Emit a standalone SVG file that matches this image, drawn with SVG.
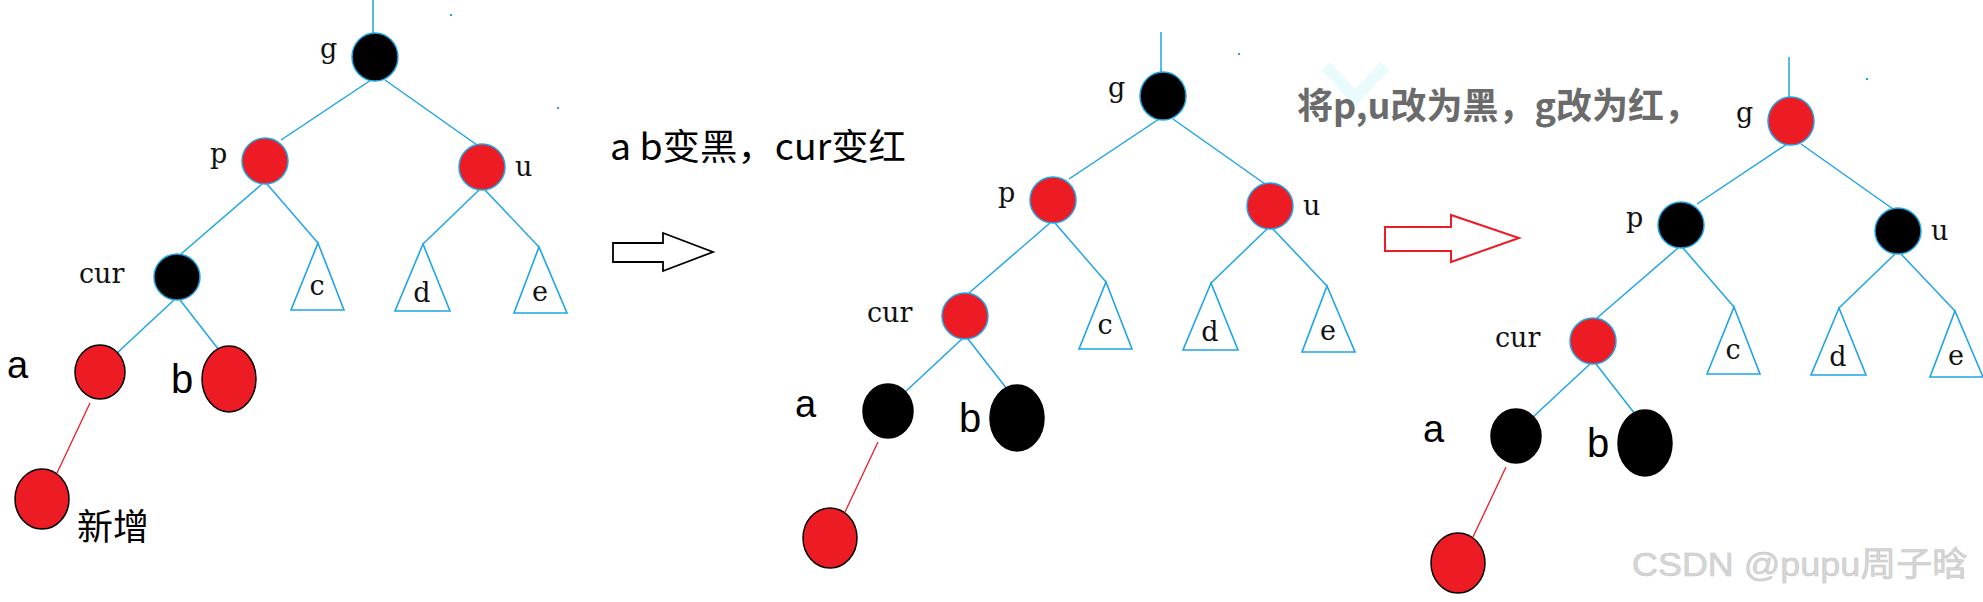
<svg xmlns="http://www.w3.org/2000/svg" width="1983" height="602" viewBox="0 0 1983 602">
<style>
  .edge { stroke: #1ea5e6; stroke-width: 1.5; fill: none; }
  .redge { stroke: #ed1c24; stroke-width: 1.3; fill: none; }
  .tri { stroke: #1ea5e6; stroke-width: 1.6; fill: #ffffff; }
  .nb { fill: #000000; stroke: #1ea5e6; stroke-width: 1.5; }
  .nr { fill: #ed1c24; stroke: #1ea5e6; stroke-width: 1.5; }
  .kb { fill: #000000; stroke: #000000; stroke-width: 1.5; }
  .kr { fill: #ed1c24; stroke: #000000; stroke-width: 1.5; }
  .lbl { font-family: "DejaVu Serif", "Liberation Serif", serif; font-size: 27px; fill: #111; }
  .big { font-family: "Liberation Sans", "Noto Sans", sans-serif; fill: #000; }
  .cjk { font-family: "Noto Sans CJK SC", "Noto Sans", sans-serif; }
  .dot { fill: #1ea5e6; }
</style>
<rect width="1983" height="602" fill="#ffffff"/>

<!-- faint watermark chevron -->
<path d="M1326,66 L1355,98 L1385,66" stroke="#eafbfd" stroke-width="12" fill="none"/>

<!-- captions -->
<text id="caption1" class="cjk" x="610" y="160" font-size="36" fill="#000" textLength="296" lengthAdjust="spacingAndGlyphs">a b变黑，cur变红</text>
<text id="caption2" class="cjk" x="1297" y="119" font-size="36" font-weight="bold" fill="#6b6b6b">将p,u改为黑，g改为红，</text>

<!-- transition arrows -->
<g id="arrow1">
  <polygon points="613,243 663,243 663,233 713,252 663,271 663,262 613,262" fill="#fff" stroke="#000" stroke-width="1.8"/>
</g>
<g id="arrow2">
  <polygon points="1385,227 1451,227 1451,215 1519,238 1451,262 1451,251 1385,251" fill="#fff" stroke="#ed1c24" stroke-width="2"/>
</g>

<!-- connectors -->
<g id="connectors">
  <g id="edges-tree1">
    <path class="edge" d="M373,0 L373,33"/>
    <path class="edge" d="M371,80 L281,140"/>
    <path class="edge" d="M385,80 L477,145"/>
    <path class="edge" d="M262,184 L181,254"/>
    <path class="edge" d="M267,184 L318,243"/>
    <path class="edge" d="M479,190 L423,244"/>
    <path class="edge" d="M485,190 L539,247"/>
    <path class="edge" d="M174,300 L117,353"/>
    <path class="edge" d="M180,300 L219,350"/>
    <path class="redge" d="M90,403 L57,473"/>
  </g>
  <g id="edges-tree2" transform="translate(788,39)">
    <path class="edge" d="M373,-7 L373,33"/>
    <path class="edge" d="M371,80 L281,140"/>
    <path class="edge" d="M385,80 L477,145"/>
    <path class="edge" d="M262,184 L181,254"/>
    <path class="edge" d="M267,184 L318,243"/>
    <path class="edge" d="M479,190 L423,244"/>
    <path class="edge" d="M485,190 L539,247"/>
    <path class="edge" d="M174,300 L117,353"/>
    <path class="edge" d="M180,300 L219,350"/>
    <path class="redge" d="M90,403 L57,473"/>
  </g>
  <g id="edges-tree3" transform="translate(1416,64)">
    <path class="edge" d="M373,-7 L373,33"/>
    <path class="edge" d="M371,80 L281,140"/>
    <path class="edge" d="M385,80 L477,145"/>
    <path class="edge" d="M262,184 L181,254"/>
    <path class="edge" d="M267,184 L318,243"/>
    <path class="edge" d="M479,190 L423,244"/>
    <path class="edge" d="M485,190 L539,247"/>
    <path class="edge" d="M174,300 L117,353"/>
    <path class="edge" d="M180,300 L219,350"/>
    <path class="redge" d="M90,403 L57,473"/>
  </g>
</g>

<!-- Tree 1 -->
<g id="tree1">
  <rect class="dot" x="450" y="14" width="2" height="2"/>
  <rect class="dot" x="557" y="107" width="2" height="2"/>
  <g id="t1-g"><ellipse class="nb" cx="375" cy="57" rx="23" ry="24"/><text class="lbl" x="320" y="58">g</text></g>
  <g id="t1-p"><ellipse class="nr" cx="265" cy="161" rx="23" ry="23"/><text class="lbl" x="210" y="163">p</text></g>
  <g id="t1-u"><ellipse class="nr" cx="482" cy="167" rx="23" ry="23"/><text class="lbl" x="515" y="176">u</text></g>
  <g id="t1-cur"><ellipse class="nb" cx="177" cy="277" rx="23" ry="23"/><text class="lbl" x="79" y="283">cur</text></g>
  <g id="t1-c"><polygon class="tri" points="318,243 344,310 291,310"/><text class="lbl" x="317" y="295" text-anchor="middle">c</text></g>
  <g id="t1-d"><polygon class="tri" points="423,244 450,311 395,311"/><text class="lbl" x="422" y="302" text-anchor="middle">d</text></g>
  <g id="t1-e"><polygon class="tri" points="539,247 567,313 514,313"/><text class="lbl" x="540" y="301" text-anchor="middle">e</text></g>
  <g id="t1-a"><ellipse class="kr" cx="100" cy="372" rx="25" ry="27"/><text class="big" x="7" y="378" font-size="38">a</text></g>
  <g id="t1-b"><ellipse class="kr" cx="229" cy="379" rx="27" ry="33"/><text class="big" x="171" y="393" font-size="40">b</text></g>
  <g id="t1-new"><ellipse class="kr" cx="42" cy="499" rx="27" ry="30"/><text class="cjk" x="77" y="540" font-size="36" fill="#000">新增</text></g>
</g>

<!-- Tree 2 -->
<g id="tree2" transform="translate(788,39)">
  <rect class="dot" x="450" y="14" width="2" height="2"/>
  <g id="t2-g"><ellipse class="nb" cx="375" cy="57" rx="23" ry="24"/><text class="lbl" x="320" y="58">g</text></g>
  <g id="t2-p"><ellipse class="nr" cx="265" cy="161" rx="23" ry="23"/><text class="lbl" x="210" y="163">p</text></g>
  <g id="t2-u"><ellipse class="nr" cx="482" cy="167" rx="23" ry="23"/><text class="lbl" x="515" y="176">u</text></g>
  <g id="t2-cur"><ellipse class="nr" cx="177" cy="277" rx="23" ry="23"/><text class="lbl" x="79" y="283">cur</text></g>
  <g id="t2-c"><polygon class="tri" points="318,243 344,310 291,310"/><text class="lbl" x="317" y="295" text-anchor="middle">c</text></g>
  <g id="t2-d"><polygon class="tri" points="423,244 450,311 395,311"/><text class="lbl" x="422" y="302" text-anchor="middle">d</text></g>
  <g id="t2-e"><polygon class="tri" points="539,247 567,313 514,313"/><text class="lbl" x="540" y="301" text-anchor="middle">e</text></g>
  <g id="t2-a"><ellipse class="kb" cx="100" cy="372" rx="25" ry="27"/><text class="big" x="7" y="378" font-size="38">a</text></g>
  <g id="t2-b"><ellipse class="kb" cx="229" cy="379" rx="27" ry="33"/><text class="big" x="171" y="393" font-size="40">b</text></g>
  <g id="t2-new"><ellipse class="kr" cx="42" cy="499" rx="27" ry="30"/></g>
</g>

<!-- Tree 3 -->
<g id="tree3" transform="translate(1416,64)">
  <rect class="dot" x="450" y="14" width="2" height="2"/>
  <g id="t3-g"><ellipse class="nr" cx="375" cy="57" rx="23" ry="24"/><text class="lbl" x="320" y="58">g</text></g>
  <g id="t3-p"><ellipse class="nb" cx="265" cy="161" rx="23" ry="23"/><text class="lbl" x="210" y="163">p</text></g>
  <g id="t3-u"><ellipse class="nb" cx="482" cy="167" rx="23" ry="23"/><text class="lbl" x="515" y="176">u</text></g>
  <g id="t3-cur"><ellipse class="nr" cx="177" cy="277" rx="23" ry="23"/><text class="lbl" x="79" y="283">cur</text></g>
  <g id="t3-c"><polygon class="tri" points="318,243 344,310 291,310"/><text class="lbl" x="317" y="295" text-anchor="middle">c</text></g>
  <g id="t3-d"><polygon class="tri" points="423,244 450,311 395,311"/><text class="lbl" x="422" y="302" text-anchor="middle">d</text></g>
  <g id="t3-e"><polygon class="tri" points="539,247 567,313 514,313"/><text class="lbl" x="540" y="301" text-anchor="middle">e</text></g>
  <g id="t3-a"><ellipse class="kb" cx="100" cy="372" rx="25" ry="27"/><text class="big" x="7" y="378" font-size="38">a</text></g>
  <g id="t3-b"><ellipse class="kb" cx="229" cy="379" rx="27" ry="33"/><text class="big" x="171" y="393" font-size="40">b</text></g>
  <g id="t3-new"><ellipse class="kr" cx="42" cy="499" rx="27" ry="30"/></g>
</g>

<!-- watermark -->
<text id="watermark" x="1632" y="576" font-family="Liberation Sans, Noto Sans CJK SC, sans-serif" font-size="34" fill="#d6d6d6" stroke="#c2c2c2" stroke-width="0.5" textLength="336" lengthAdjust="spacingAndGlyphs">CSDN @pupu周子晗</text>
</svg>
